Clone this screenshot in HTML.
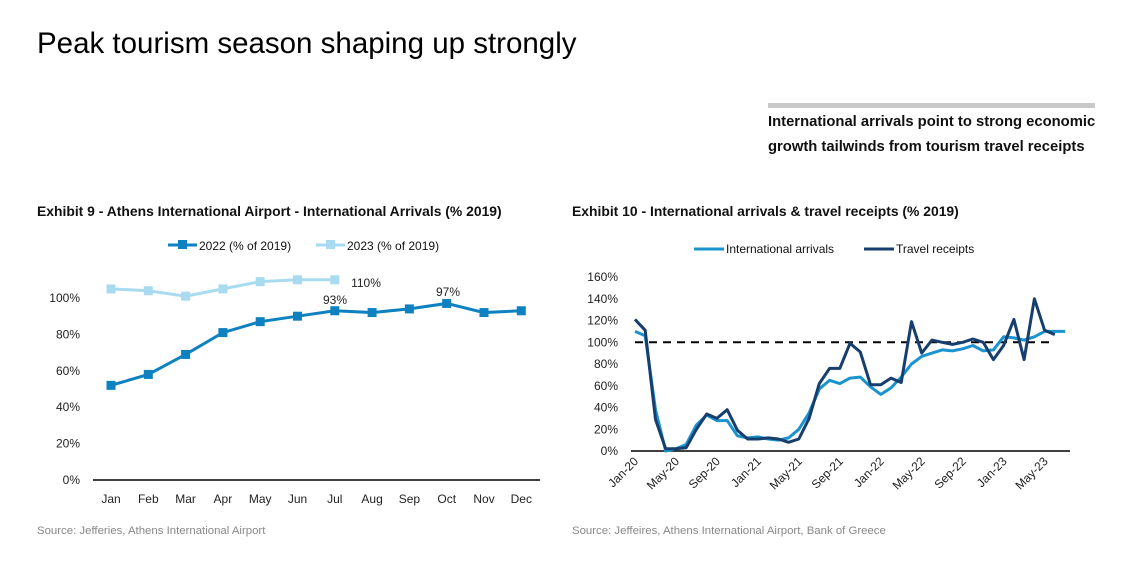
<!DOCTYPE html>
<html><head><meta charset="utf-8"><style>
html,body{margin:0;padding:0;background:#fff;}
body{width:1144px;height:564px;overflow:hidden;font-family:"Liberation Sans",sans-serif;}
</style></head><body>
<svg id="s" width="1144" height="564" xmlns="http://www.w3.org/2000/svg" font-family="Liberation Sans, sans-serif">
<text x="37" y="53" font-size="29.5" fill="#000">Peak tourism season shaping up strongly</text>
<rect x="768" y="103" width="327" height="5" fill="#c8c8c8"/>
<text x="768" y="126" font-size="14.8" font-weight="bold" fill="#111">International arrivals point to strong economic</text>
<text x="768" y="151" font-size="14.8" font-weight="bold" fill="#111">growth tailwinds from tourism travel receipts</text>
<text x="37" y="216" font-size="13.9" font-weight="bold" fill="#111">Exhibit 9 - Athens International Airport - International Arrivals (% 2019)</text>
<text x="572" y="216" font-size="13.9" font-weight="bold" fill="#111">Exhibit 10 - International arrivals &amp; travel receipts (% 2019)</text>
<text x="37" y="534" font-size="11.4" fill="#888">Source: Jefferies, Athens International Airport</text>
<text x="572" y="534" font-size="11.4" fill="#888">Source: Jeffeires, Athens International Airport, Bank of Greece</text>
<line x1="168" y1="245" x2="197" y2="245" stroke="#0E82C0" stroke-width="3"/>
<rect x="178" y="240" width="9" height="9" fill="#0E82C0"/>
<text x="199" y="250" font-size="12" fill="#111">2022 (% of 2019)</text>
<line x1="316" y1="245" x2="345" y2="245" stroke="#A8DBF0" stroke-width="3"/>
<rect x="326" y="240" width="9" height="9" fill="#A8DBF0"/>
<text x="347" y="250" font-size="12" fill="#111">2023 (% of 2019)</text>
<line x1="694" y1="249" x2="724" y2="249" stroke="#1A93CE" stroke-width="3"/>
<text x="726" y="253" font-size="12" fill="#111">International arrivals</text>
<line x1="864" y1="249" x2="894" y2="249" stroke="#173F6E" stroke-width="3"/>
<text x="896" y="253" font-size="12" fill="#111">Travel receipts</text>
<g id="g"></g>
</svg>
<script>
var g=document.getElementById('g'),h='';
function T(x,y,t,a,extra){h+='<text x="'+x+'" y="'+y+'" font-size="12" fill="#222" text-anchor="'+(a||'middle')+'" '+(extra||'')+'>'+t+'</text>';}
var y0=480,k=1.82,x0=111,dx=37.3;
for(var i=0;i<=5;i++)T(80,y0-i*20*k+4,i*20+'%','end');
h+='<line x1="93" y1="480" x2="540" y2="480" stroke="#000" stroke-width="1.5"/>';
var m=['Jan','Feb','Mar','Apr','May','Jun','Jul','Aug','Sep','Oct','Nov','Dec'];
m.forEach(function(s,i){T(x0+i*dx,503,s);});
function ser(d,c){var p=d.map(function(v,i){return (x0+i*dx)+','+(y0-v*k)}).join(' ');
h+='<polyline points="'+p+'" fill="none" stroke="'+c+'" stroke-width="3"/>';
d.forEach(function(v,i){h+='<rect x="'+(x0+i*dx-4.5)+'" y="'+(y0-v*k-4.5)+'" width="9" height="9" fill="'+c+'"/>';});}
ser([105,104,101,105,109,110,110],'#A8DBF0');
ser([52,58,69,81,87,90,93,92,94,97,92,93],'#0E82C0');
T(366,287,'110%');T(335,304,'93%');T(448,296,'97%');
var Y0=451,K=1.0875,X0=635,DX=10.24;
for(var i=0;i<=8;i++)T(618,Y0-i*20*K+4,i*20+'%','end');
h+='<line x1="631" y1="451" x2="1070" y2="451" stroke="#000" stroke-width="1.5"/>';
h+='<line x1="635" y1="'+(Y0-100*K)+'" x2="1055" y2="'+(Y0-100*K)+'" stroke="#000" stroke-width="2" stroke-dasharray="8,6"/>';
var L=['Jan-20','May-20','Sep-20','Jan-21','May-21','Sep-21','Jan-22','May-22','Sep-22','Jan-23','May-23'];
L.forEach(function(s,i){var x=X0+i*4*DX+4,y=462;T(x,y,s,'end','transform="rotate(-45 '+x+' '+y+')"');});
function ln(d,c){var p=d.map(function(v,i){return (X0+i*DX).toFixed(1)+','+(Y0-v*K).toFixed(1)}).join(' ');
h+='<polyline points="'+p+'" fill="none" stroke="'+c+'" stroke-width="3" stroke-linejoin="round"/>';}
ln([110,106,38,0,2,6,24,33,28,28,14,12,13,11,10,12,20,35,57,65,62,67,68,59,52,58,68,80,87,90,93,92,94,97,92,93,105,104,102,105,110,110,110],'#1A93CE');
ln([121,111,29,2,2,3,20,34,30,38,19,11,11,12,11,8,11,30,62,76,76,99,91,61,61,67,63,119,90,102,100,98,100,103,100,84,97,121,84,140,111,107],'#173F6E');
g.innerHTML=h;
</script>
</body></html>
